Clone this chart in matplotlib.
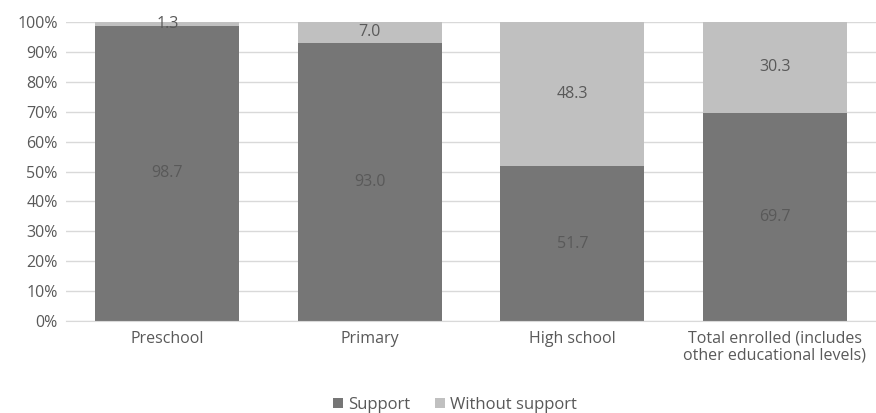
import matplotlib.pyplot as plt
import numpy as np

plt.rcParams['font.family'] = ['Open Sans', 'DejaVu Sans']

# Data
categories = ['Preschool', 'Primary', 'High school',
              'Total enrolled (includes\nother educational levels)']
support = [98.7, 93.0, 51.7, 69.7]
without_support = [1.3, 7.0, 48.3, 30.3]

dark = '#767676'
light = '#c0c0c0'
text_color = '#595959'

fig = plt.figure(figsize=(8.76, 4.13), dpi=100)
ax = fig.add_axes([66 / 876, 1 - 321 / 413, 810 / 876, 299 / 413])

x = np.arange(len(categories))
w = 0.71
b1 = ax.bar(x, support, w, color=dark, label='Support', zorder=2)
b2 = ax.bar(x, without_support, w, bottom=support, color=light,
            label='Without support', zorder=2)

for rect, v in zip(b1, support):
    ax.text(rect.get_x() + rect.get_width() / 2, rect.get_y() + rect.get_height() / 2,
            f'{v:.1f}', ha='center', va='center', color=text_color, fontsize=11.5)
for rect, v in zip(b2, without_support):
    ax.text(rect.get_x() + rect.get_width() / 2, rect.get_y() + rect.get_height() / 2,
            f'{v:.1f}', ha='center', va='center', color=text_color, fontsize=11.5)

ax.set_xlim(-0.5, len(categories) - 0.5)
ax.set_ylim(0, 100)
ax.set_yticks(np.arange(0, 101, 10))
ax.set_yticklabels([f'{t}%' for t in range(0, 101, 10)])
ax.set_xticks(x)
ax.set_xticklabels(categories, linespacing=1.1)
ax.tick_params(axis='both', length=0, colors=text_color, labelsize=11.5)
ax.tick_params(axis='x', pad=7)
ax.tick_params(axis='y', pad=6)
ax.yaxis.grid(True, color='#d9d9d9', linewidth=1, zorder=0)
for s in ['top', 'right', 'left']:
    ax.spines[s].set_visible(False)
ax.spines['bottom'].set_color('#d9d9d9')

leg = fig.legend(loc='center', bbox_to_anchor=(455 / 876, 1 - 405 / 413), ncol=2,
                 frameon=False, fontsize=12, handlelength=0.6, handleheight=0.6,
                 handletextpad=0.3, columnspacing=1.5)
for t in leg.get_texts():
    t.set_color(text_color)

fig.savefig('out.png', dpi=100, facecolor='white')
